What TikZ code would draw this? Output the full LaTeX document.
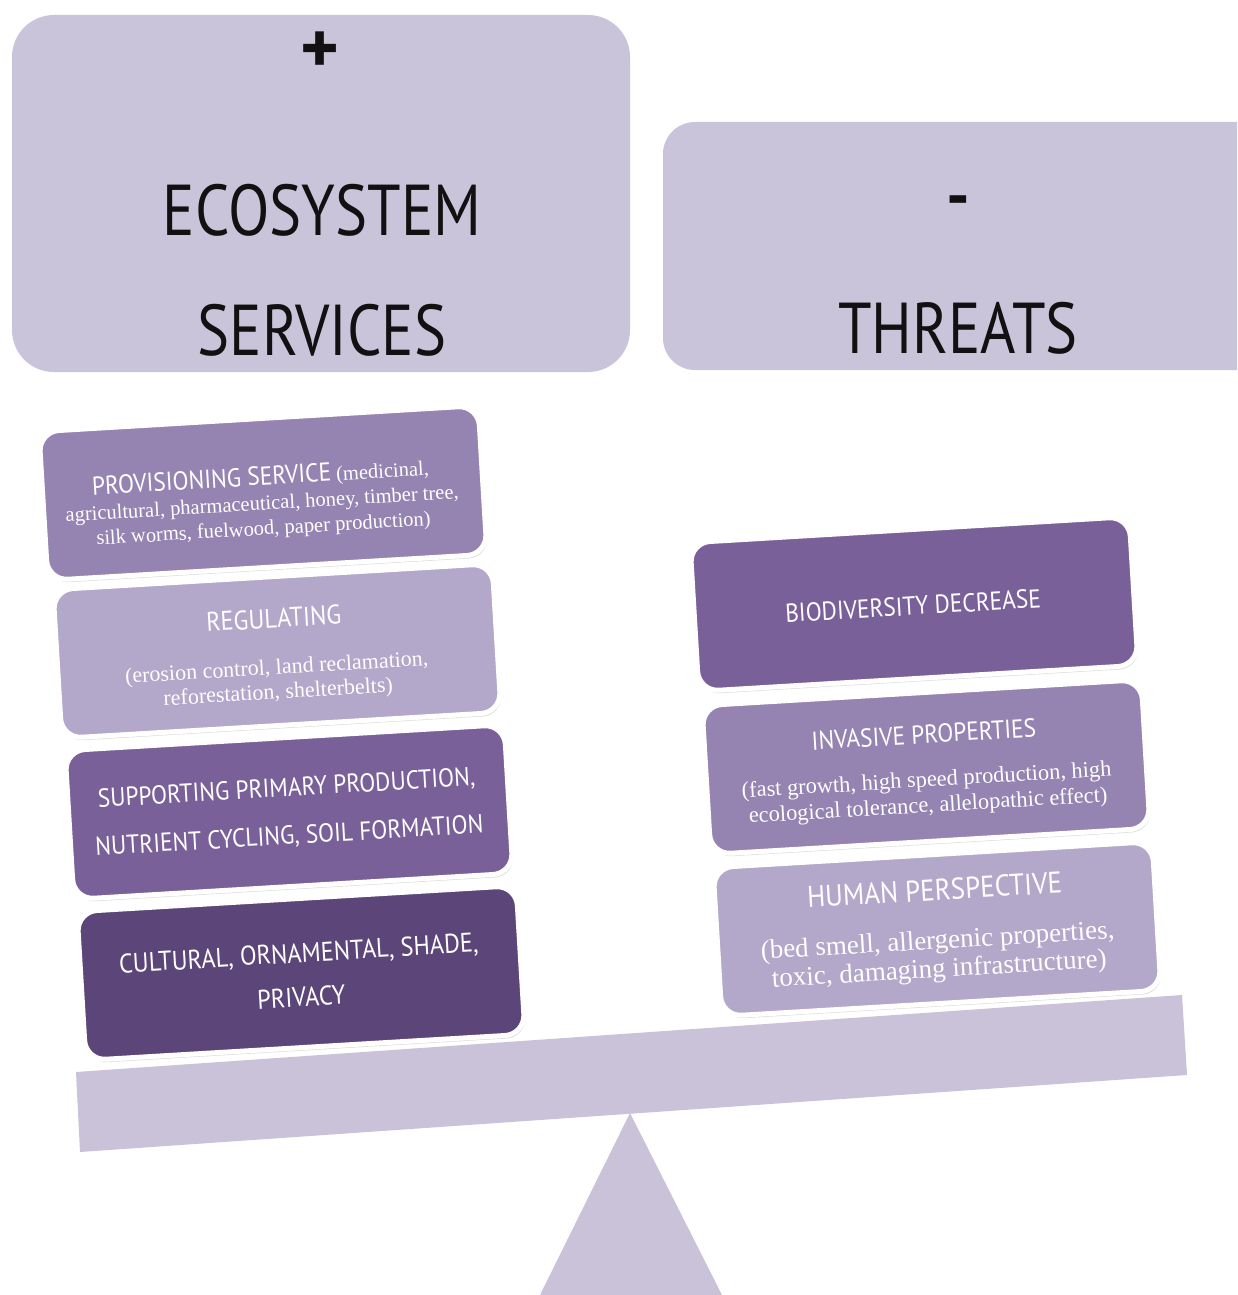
\documentclass[tikz,border=0pt]{standalone}
\usepackage{graphicx}
\usepackage{fontspec}
\setmainfont{Liberation Serif}
\newfontfamily\capsf{PT Sans}
\usetikzlibrary{shadows}
\definecolor{topc}{RGB}{202,196,218}
\definecolor{beamc}{RGB}{201,194,217}
\definecolor{cA}{RGB}{149,131,177}
\definecolor{cB}{RGB}{179,167,202}
\definecolor{cC}{RGB}{122,96,153}
\definecolor{cD}{RGB}{92,69,120}
\definecolor{ink}{RGB}{17,17,17}
\newcommand{\cz}[1]{\scalebox{0.9}[1]{#1}}
\newcommand{\capsline}[2]{{\capsf\fontsize{#1}{#1}\selectfont\cz{#2}}}
\begin{document}
\begin{tikzpicture}[x=1pt,y=-1pt,
  bigbox/.style={fill=topc, draw=none},
  title/.style={text=ink, inner sep=0pt},
  sbox/.style={draw=white, line width=5pt, rounded corners=20pt,
    minimum width=440pt, minimum height=149pt, rotate=3.4, inner sep=0pt,
    drop shadow={opacity=0.28, shadow xshift=1.5pt, shadow yshift=-3pt}},
  stext/.style={rotate=3.4, text=white, align=center, inner sep=0pt}]
\useasboundingbox (0,0) rectangle (1237,1295);
\clip (0,0) rectangle (1237,1295);
\fill[white] (0,0) rectangle (1237,1295);

% top boxes
\fill[bigbox, rounded corners=42pt] (12,15) rectangle (630,372);
\fill[bigbox, rounded corners=32pt] (663,122) rectangle (1270,370);
\node[title] (plus) at (320,53) {\capsf\bfseries\fontsize{74}{74}\selectfont +};
\node[title] (eco) at (322,210) {\capsf\fontsize{72}{72}\selectfont\scalebox{0.84}[1]{ECOSYSTEM}};
\node[title] (serv) at (322,330) {\capsf\fontsize{72}{72}\selectfont\scalebox{0.84}[1]{SERVICES}};
\node[title] (minus) at (958,207) {\capsf\bfseries\fontsize{66}{66}\selectfont -};
\node[title] (thr) at (958,328) {\capsf\fontsize{72}{72}\selectfont\scalebox{0.84}[1]{THREATS}};

% beam and pivot
\fill[beamc] (76,1072) -- (1182,995) -- (1187,1075) -- (80,1152) -- cycle;
\fill[beamc] (630,1113) -- (722,1295) -- (540,1295) -- cycle;

% left stack
\node[sbox, fill=cA] (provb) at (263,493) {};
\node[stext, font=\fontsize{20.5}{25}\selectfont] (prov) at (262,503)
  {\capsline{26}{PROVISIONING SERVICE} (medicinal,\\
   agricultural, pharmaceutical, honey, timber tree,\\
   silk worms, fuelwood, paper production)};
\node[sbox, fill=cB] (regb) at (277,651) {};
\node[stext, font=\fontsize{22}{24.5}\selectfont] (reg) at (276,656)
  {\capsline{27}{REGULATING}\\[22pt]
   (erosion control, land reclamation,\\
   reforestation, shelterbelts)};
\node[sbox, fill=cC] (suppb) at (289,812) {};
\node[stext, font=\capsf\fontsize{26}{48}\selectfont] (supp) at (288,813)
  {\cz{SUPPORTING PRIMARY PRODUCTION,}\\
   \cz{NUTRIENT CYCLING, SOIL FORMATION}};
\node[sbox, fill=cD] (cultb) at (301,973) {};
\node[stext, font=\capsf\fontsize{27}{44}\selectfont] (cult) at (300,975)
  {\cz{CULTURAL, ORNAMENTAL, SHADE,}\\
   \cz{PRIVACY}};

% right stack
\node[sbox, fill=cC] (biob) at (914,604) {};
\node[stext, font=\capsf\fontsize{26}{26}\selectfont] (bio) at (913,606)
  {\cz{BIODIVERSITY DECREASE}};
\node[sbox, fill=cA] (invb) at (926,767) {};
\node[stext, font=\fontsize{22.4}{25.5}\selectfont] (inv) at (926,771)
  {\capsline{26}{INVASIVE PROPERTIES}\\[18pt]
   (fast growth, high speed production, high\\
   ecological tolerance, allelopathic effect)};
\node[sbox, fill=cB] (humb) at (937,929) {};
\node[stext, font=\fontsize{27}{28.5}\selectfont] (hum) at (937,931)
  {\capsline{30}{HUMAN PERSPECTIVE}\\[20pt]
   (bed smell, allergenic properties,\\
   toxic, damaging infrastructure)};
\end{tikzpicture}
\end{document}
